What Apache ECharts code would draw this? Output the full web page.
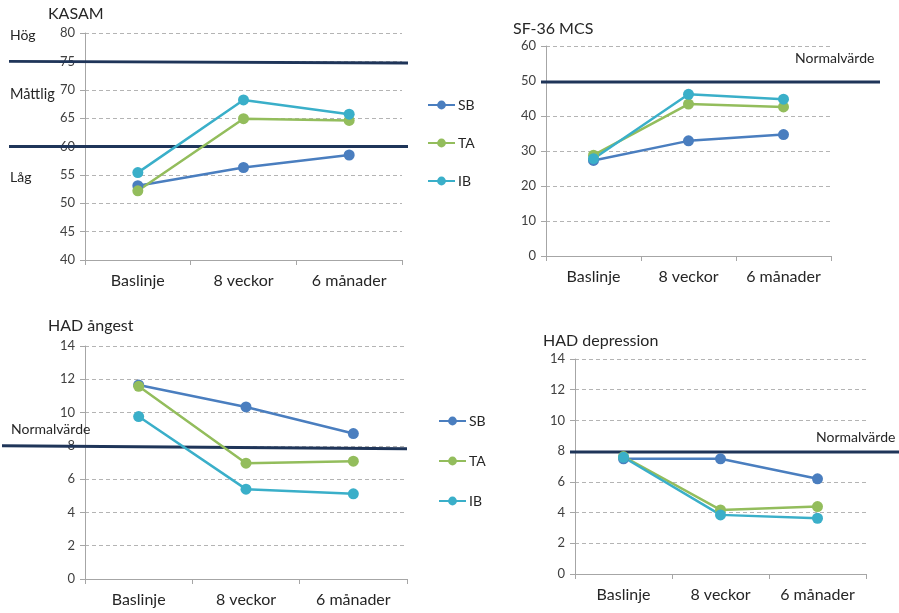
<!DOCTYPE html>
<html><head><meta charset="utf-8">
<script src="https://cdn.jsdelivr.net/npm/echarts@6/dist/echarts.min.js"></script>
<style>html,body{margin:0;padding:0;background:#fff}#c{width:899px;height:613px}</style>
</head><body><div id="c"></div>
<script>
const categories = ['Baslinje', '8 veckor', '6 månader'];
const seriesNames = ['SB', 'TA', 'IB'];

const kasamSB = [53.1, 56.3, 58.5];
const kasamTA = [52.2, 64.9, 64.6];
const kasamIB = [55.4, 68.2, 65.7];

const mcsSB = [27.3, 32.9, 34.7];
const mcsTA = [28.8, 43.4, 42.6];
const mcsIB = [27.8, 46.2, 44.8];

const angSB = [11.66, 10.34, 8.74];
const angTA = [11.58, 6.96, 7.08];
const angIB = [9.76, 5.4, 5.12];

const depSB = [7.5, 7.5, 6.2];
const depTA = [7.65, 4.17, 4.39];
const depIB = [7.6, 3.85, 3.63];

// reference (threshold) lines: [value at left end, value at right end]
const kasamHighRef = [75, 74.7];
const kasamLowRef = [60, 60];
const mcsNormRef = [49.7, 49.7];
const angNormRef = [8.01, 7.82];
const depNormRef = [7.95, 7.95];

const colors = ['#4a7ebf', '#93bd5c', '#3aafc9'];
const navy = '#1f3559';
const font = 'Lato, "Open Sans", sans-serif';

const panels = [
  {grid: {left: 85, top: 33, width: 317, height: 227}, ref: {left: 9, width: 399}, min: 40, max: 80, interval: 5,
   data: [kasamSB, kasamTA, kasamIB], refs: [kasamHighRef, kasamLowRef]},
  {grid: {left: 546, top: 46, width: 285, height: 210}, ref: {left: 541, width: 339}, min: 0, max: 60, interval: 10,
   data: [mcsSB, mcsTA, mcsIB], refs: [mcsNormRef]},
  {grid: {left: 85, top: 346, width: 322, height: 233}, ref: {left: 2, width: 405}, min: 0, max: 14, interval: 2,
   data: [angSB, angTA, angIB], refs: [angNormRef]},
  {grid: {left: 575, top: 359, width: 291, height: 215}, ref: {left: 570, width: 329}, min: 0, max: 14, interval: 2,
   data: [depSB, depTA, depIB], refs: [depNormRef]}
];

const grids = [], xAxes = [], yAxes = [], series = [];
panels.forEach((p, i) => {
  grids.push(Object.assign({}, p.grid));
  xAxes.push({
    type: 'category', gridIndex: i, data: categories, boundaryGap: true,
    axisLine: {lineStyle: {color: '#a6a6a6', width: 1}},
    axisTick: {show: true, length: 5, interval: 0, lineStyle: {color: '#a6a6a6'}},
    axisLabel: {color: '#262626', fontSize: 16, fontFamily: font, margin: 13, interval: 0}
  });
  yAxes.push({
    type: 'value', gridIndex: i, min: p.min, max: p.max, interval: p.interval,
    axisLine: {show: true, lineStyle: {color: '#a6a6a6', width: 1}},
    axisTick: {show: true, length: 5, lineStyle: {color: '#a6a6a6'}},
    axisLabel: {color: '#404040', fontSize: 13, fontFamily: font, margin: 10},
    splitLine: {show: true, lineStyle: {color: '#b4b4b4', type: [4, 3], width: 1}}
  });
});
// overlay grids for the threshold lines (wider than the plot areas)
panels.forEach((p, i) => {
  const gi = grids.length;
  grids.push({left: p.ref.left, width: p.ref.width, top: p.grid.top, height: p.grid.height});
  xAxes.push({type: 'value', gridIndex: gi, min: 0, max: 1, show: false});
  yAxes.push({type: 'value', gridIndex: gi, min: p.min, max: p.max, show: false});
  p.refs.forEach(r => {
    series.push({
      type: 'line', xAxisIndex: gi, yAxisIndex: gi, data: [[0, r[0]], [1, r[1]]],
      symbol: 'none', silent: true, z: 3, lineStyle: {color: navy, width: 3}, animation: false
    });
  });
});
panels.forEach((p, i) => {
  p.data.forEach((d, k) => {
    series.push({
      name: seriesNames[k], type: 'line', xAxisIndex: i, yAxisIndex: i, data: d,
      symbol: 'circle', symbolSize: 11, z: 4,
      itemStyle: {color: colors[k]}, lineStyle: {color: colors[k], width: 2.5}, animation: false
    });
  });
});

const txt = (text, left, top, size) => ({text: text, left: left, top: top, padding: 0,
  textStyle: {fontFamily: font, fontSize: size, fontWeight: 'normal', color: '#262626'}});

const legendBase = {
  orient: 'vertical', data: seriesNames, itemWidth: 27, itemHeight: 11,
  textStyle: {fontFamily: font, fontSize: 14, color: '#262626', padding: [0, 0, 0, -2]},
  selectedMode: false, padding: 0
};

const option = {
  backgroundColor: '#fff',
  animation: false,
  title: [
    txt('KASAM', 48, 6, 16),
    txt('SF-36 MCS', 513, 21, 16),
    txt('HAD ångest', 48, 318, 16),
    txt('HAD depression', 543, 333, 16),
    txt('Hög', 10, 28, 14),
    txt('Måttlig', 10, 87, 14.5),
    txt('Låg', 10, 170, 14),
    txt('Normalvärde', 795, 51, 14),
    txt('Normalvärde', 11, 422, 14),
    txt('Normalvärde', 816, 430, 14)
  ],
  legend: [
    Object.assign({left: 427, top: 98, itemGap: 24}, legendBase),
    Object.assign({left: 438, top: 414, itemGap: 26}, legendBase)
  ],
  grid: grids, xAxis: xAxes, yAxis: yAxes, series: series
};
const chart = echarts.init(document.getElementById('c'), null, {renderer: 'canvas'});
chart.setOption(option);
</script></body></html>
